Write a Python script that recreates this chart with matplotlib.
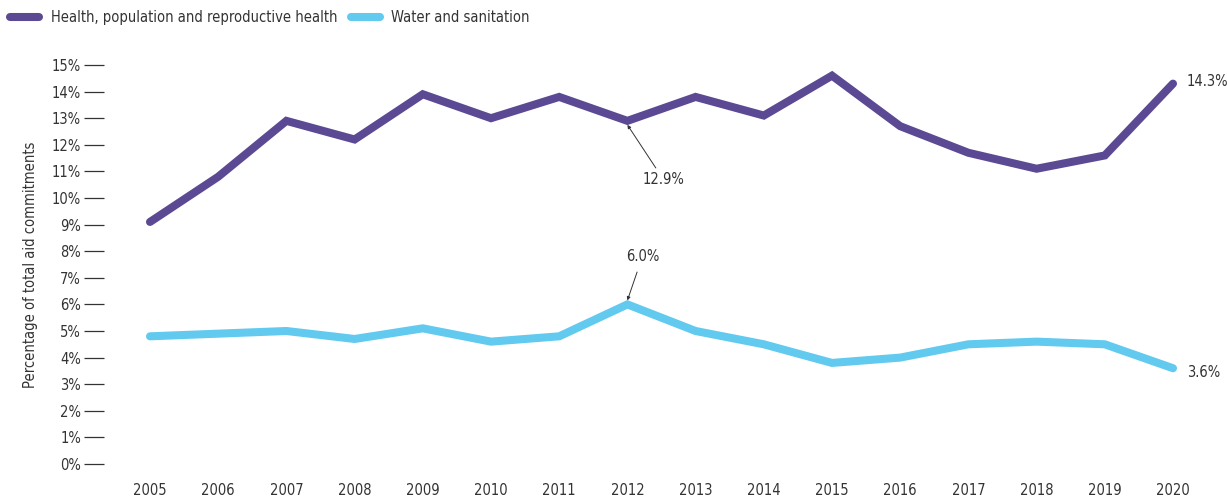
import matplotlib.pyplot as plt
from matplotlib import font_manager
from matplotlib.ticker import FuncFormatter

years = list(range(2005, 2021))
health = [9.1, 10.8, 12.9, 12.2, 13.9, 13.0, 13.8, 12.9, 13.8, 13.1,
          14.6, 12.7, 11.7, 11.1, 11.6, 14.3]
water = [4.8, 4.9, 5.0, 4.7, 5.1, 4.6, 4.8, 6.0, 5.0, 4.5,
         3.8, 4.0, 4.5, 4.6, 4.5, 3.6]
series_names = ['Health, population and reproductive health', 'Water and sanitation']

PURPLE = '#5c4993'
BLUE = '#62c9ef'
TEXT = '#333333'

# look for a narrow face, the original uses a condensed font
narrow = None
for f in font_manager.fontManager.ttflist:
    if f.name == 'Liberation Sans Narrow':
        narrow = ('Liberation Sans Narrow', 'normal')
        break
    if f.name == 'DejaVu Sans' and f.stretch in ('condensed', 700, 'semi-condensed'):
        narrow = ('DejaVu Sans', 'condensed')
if narrow:
    plt.rcParams['font.family'] = [narrow[0], 'DejaVu Sans']
    plt.rcParams['font.stretch'] = narrow[1]
    fsize = 10.5
else:
    plt.rcParams['font.family'] = ['DejaVu Sans']
    fsize = 9.5
plt.rcParams['font.size'] = fsize
plt.rcParams['text.color'] = TEXT

fig = plt.figure(figsize=(12.27, 4.99), dpi=100)
ax = fig.add_axes([104 / 1227, 35 / 499, (1190 - 104) / 1227, (464 - 65) / 499])

ax.plot(years, health, color=PURPLE, lw=5.8, solid_capstyle='round',
        solid_joinstyle='miter', label=series_names[0], clip_on=False)
ax.plot(years, water, color=BLUE, lw=5.8, solid_capstyle='round',
        solid_joinstyle='miter', label=series_names[1], clip_on=False)

ppy = (1173 - 150) / 15
ax.set_xlim(2005 - 46 / ppy, 2020 + 17 / ppy)
ax.set_ylim(0, 15)

for s in ax.spines.values():
    s.set_visible(False)

ax.set_yticks(range(0, 16))
ax.yaxis.set_major_formatter(FuncFormatter(lambda v, p: '%d%%' % v))
ax.tick_params(axis='y', direction='out', length=14.5, width=0.9,
               color=TEXT, labelcolor=TEXT, pad=2)
ax.set_xticks(years)
ax.tick_params(axis='x', length=0, pad=14, labelcolor=TEXT)
ax.set_ylabel('Percentage of total aid commitments', color=TEXT, labelpad=10)

# annotations
ax.annotate('12.9%', xy=(2012, health[7] - 0.15), xytext=(2012.22, 10.7),
            ha='left', va='center',
            arrowprops=dict(arrowstyle='-|>', color=TEXT, lw=0.7,
                            mutation_scale=5, shrinkA=1, shrinkB=0))
ax.annotate('6.0%', xy=(2012, water[7] + 0.15), xytext=(2012.22, 7.8),
            ha='center', va='center',
            arrowprops=dict(arrowstyle='-|>', color=TEXT, lw=0.7,
                            mutation_scale=5, shrinkA=4, shrinkB=0))
ax.annotate('%.1f%%' % health[-1], xy=(2020, health[-1]), xytext=(14, 2),
            textcoords='offset pixels', ha='left', va='center')
ax.annotate('%.1f%%' % water[-1], xy=(2020, water[-1]), xytext=(14, -4),
            textcoords='offset pixels', ha='left', va='center')

fig.legend(loc='upper left', bbox_to_anchor=(0.0, 1.0), ncol=2, frameon=False,
           handlelength=2.0, handletextpad=0.8, columnspacing=0.9,
           borderaxespad=0.3)

fig.savefig('out.png', dpi=100)
